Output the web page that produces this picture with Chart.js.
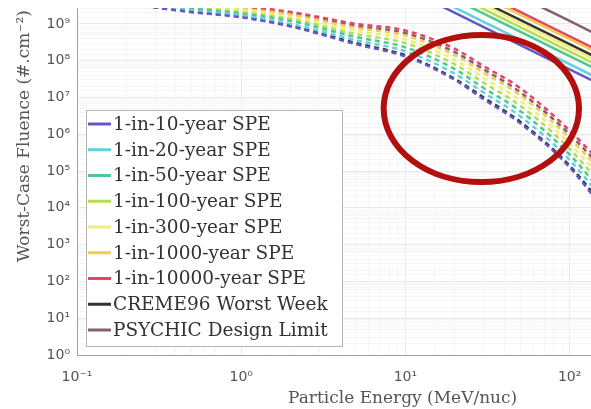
<!DOCTYPE html>
<html>
<head>
<meta charset="utf-8">
<script src="https://cdn.jsdelivr.net/npm/chart.js@4.4.1/dist/chart.umd.min.js"></script>
<style>
    html, body { margin: 0; padding: 0; background: #fff; }
    #wrap { width: 591px; height: 409px; position: relative; }
</style>
</head>
<body>
<div id="wrap"><canvas id="fluenceChart" width="591" height="409"></canvas></div>
<script>
// Worst-case fluence vs particle energy (log-log)

const seriesNames = ['1-in-10-year SPE', '1-in-20-year SPE', '1-in-50-year SPE', '1-in-100-year SPE',
    '1-in-300-year SPE', '1-in-1000-year SPE', '1-in-10000-year SPE', 'CREME96 Worst Week', 'PSYCHIC Design Limit'];
const seriesColors = ['#6258c8', '#5fd2e2', '#4cc890', '#b8dc50', '#eeee7a', '#f0cc50', '#ec4262', '#333333', '#84606e'];

// dashed curves
const dashEnergy = [0.2, 0.5, 1, 2, 5, 10, 20, 30, 50, 100, 200];
const dash10 = [3.5e9, 2.1e9, 1.5e9, 8.5e8, 2.8e8, 1.3e8, 3.0e7, 8.9e6, 2.0e6, 1.26e5, 2.5e3];
const dash20 = [3.9e9, 2.3e9, 1.7e9, 1.0e9, 3.6e8, 1.8e8, 4.4e7, 1.35e7, 3.1e6, 2.0e5, 4.6e3];
const dash50 = [4.2e9, 2.6e9, 1.9e9, 1.2e9, 4.4e8, 2.3e8, 5.9e7, 1.8e7, 4.3e6, 2.8e5, 7.2e3];
const dash100 = [4.5e9, 2.8e9, 2.1e9, 1.35e9, 5.3e8, 3.0e8, 7.9e7, 2.5e7, 6.0e6, 4.0e5, 1.1e4];
const dash300 = [4.8e9, 3.0e9, 2.4e9, 1.55e9, 6.5e8, 3.8e8, 1.05e8, 3.4e7, 8.3e6, 5.6e5, 1.8e4];
const dash1000 = [5.1e9, 3.3e9, 2.6e9, 1.8e9, 7.8e8, 4.8e8, 1.4e8, 4.7e7, 1.15e7, 7.9e5, 2.75e4];
const dash10000 = [5.6e9, 3.7e9, 3.0e9, 2.1e9, 1.0e9, 6.6e8, 2.1e8, 7.1e7, 1.8e7, 1.26e6, 5.0e4];
const dashCreme = [3.6e9, 2.1e9, 1.6e9, 8.9e8, 3.0e8, 1.4e8, 3.2e7, 9.9e6, 2.2e6, 1.4e5, 3.0e3];
const dashPsychic = [5.4e9, 3.5e9, 2.8e9, 1.95e9, 8.8e8, 5.6e8, 1.7e8, 5.8e7, 1.4e7, 1.0e6, 3.7e4];

// solid curves
const solidEnergy = [10, 30, 100, 300];
const solid10 = [9.2e9, 8.2e8, 5.8e7, 5.2e6];
const solid20 = [1.27e10, 1.14e9, 8.0e7, 7.2e6];
const solid50 = [2.1e10, 1.9e9, 1.33e8, 1.19e7];
const solid100 = [2.85e10, 2.5e9, 1.8e8, 1.6e7];
const solid300 = [3.7e10, 3.3e9, 2.3e8, 2.07e7];
const solid1000 = [6.1e10, 5.4e9, 3.85e8, 3.4e7];
const solid10000 = [7.3e10, 6.5e9, 4.6e8, 4.1e7];
const solidCreme = [4.4e10, 3.9e9, 2.8e8, 2.5e7];
const solidPsychic = [1.9e11, 1.7e10, 1.2e9, 1.06e8];

const xTickLabels = ['10⁻¹', '10⁰', '10¹', '10²'];
const yTickLabels = ['10⁰', '10¹', '10²', '10³', '10⁴', '10⁵', '10⁶', '10⁷', '10⁸', '10⁹'];

// red ellipse annotation, in data units
const ringCenter = [29, 5e6];
const ringXRange = [7.3, 113];
const ringYRange = [5e4, 5e8];

const dashSeries = [dash10, dash20, dash50, dash100, dash300, dash1000, dash10000, dashCreme, dashPsychic];
const solidSeries = [solid10, solid20, solid50, solid100, solid300, solid1000, solid10000, solidCreme, solidPsychic];

const isDecade = v => Math.abs(Math.log10(v) - Math.round(Math.log10(v))) < 1e-6;

const datasets = [];
seriesNames.forEach((name, i) => {
    datasets.push({
        label: name,
        data: solidEnergy.map((e, j) => ({ x: e, y: solidSeries[i][j] })),
        borderColor: seriesColors[i],
        borderWidth: 2.5,
        pointRadius: 0,
        fill: false
    });
    datasets.push({
        label: name + ' (dashed)',
        data: dashEnergy.map((e, j) => ({ x: e, y: dashSeries[i][j] })),
        borderColor: seriesColors[i],
        borderWidth: 2.5,
        borderDash: [5, 4],
        cubicInterpolationMode: 'monotone',
        pointRadius: 0,
        fill: false
    });
});

const overlay = {
    id: 'overlay',
    afterDraw(chart) {
        const { ctx, scales: { x, y } } = chart;
        ctx.save();

        // ellipse
        const cx = x.getPixelForValue(ringCenter[0]);
        const cy = y.getPixelForValue(ringCenter[1]);
        const rx = (x.getPixelForValue(ringXRange[1]) - x.getPixelForValue(ringXRange[0])) / 2;
        const ry = (y.getPixelForValue(ringYRange[0]) - y.getPixelForValue(ringYRange[1])) / 2;
        ctx.beginPath();
        ctx.ellipse(cx, cy, rx, ry, 0, 0, Math.PI * 2);
        ctx.strokeStyle = '#b40f0f';
        ctx.lineWidth = 6;
        ctx.stroke();

        // legend
        ctx.fillStyle = '#fff';
        ctx.fillRect(86.5, 110.5, 256, 236);
        ctx.strokeStyle = '#b4b4b4';
        ctx.lineWidth = 1;
        ctx.strokeRect(86.5, 110.5, 256, 236);
        ctx.font = '18.5px "DejaVu Serif"';
        ctx.textBaseline = 'middle';
        ctx.textAlign = 'left';
        seriesNames.forEach((name, i) => {
            const ly = 124 + i * 25.75;
            ctx.beginPath();
            ctx.moveTo(88, ly);
            ctx.lineTo(111, ly);
            ctx.strokeStyle = seriesColors[i];
            ctx.lineWidth = 3;
            ctx.stroke();
            ctx.fillStyle = '#333';
            ctx.fillText(name, 113, ly + 1);
        });

        // axis titles
        ctx.fillStyle = '#555';
        ctx.font = '17px "DejaVu Serif"';
        ctx.textBaseline = 'alphabetic';
        ctx.fillText('Particle Energy (MeV/nuc)', 288, 403);
        ctx.translate(29, 262);
        ctx.rotate(-Math.PI / 2);
        ctx.fillText('Worst-Case Fluence (#.cm⁻²)', 0, 0);
        ctx.restore();
    }
};

new Chart(document.getElementById('fluenceChart'), {
    type: 'line',
    data: { datasets: datasets },
    plugins: [overlay],
    options: {
        responsive: false,
        animation: false,
        devicePixelRatio: 1,
        events: [],
        layout: { padding: { top: 8, right: 0, left: 0, bottom: 0 } },
        plugins: { legend: { display: false }, tooltip: { enabled: false } },
        scales: {
            x: {
                type: 'logarithmic',
                min: 0.1,
                max: 135,
                afterFit: s => { s.height = 54; s.paddingLeft = 0; s.paddingRight = 0; },
                border: { display: true, color: '#a0a0a0', width: 1 },
                grid: {
                    drawTicks: false,
                    color: c => c.tick && isDecade(c.tick.value) ? '#e8e8e8' : '#f5f5f5'
                },
                ticks: {
                    autoSkip: false,
                    maxRotation: 0,
                    padding: 14,
                    color: '#555',
                    font: { family: 'DejaVu Sans', size: 14 },
                    callback: v => isDecade(v) ? (xTickLabels[Math.round(Math.log10(v)) + 1] || '') : ''
                }
            },
            y: {
                type: 'logarithmic',
                min: 1,
                max: 2.7e9,
                afterFit: s => { s.width = 77; s.paddingTop = 0; s.paddingBottom = 0; },
                border: { display: true, color: '#a0a0a0', width: 1 },
                grid: {
                    drawTicks: false,
                    color: c => c.tick && isDecade(c.tick.value) ? '#e8e8e8' : '#f5f5f5'
                },
                ticks: {
                    autoSkip: false,
                    padding: 7,
                    color: '#555',
                    font: { family: 'DejaVu Sans', size: 14 },
                    callback: v => isDecade(v) ? (yTickLabels[Math.round(Math.log10(v))] || '') : ''
                }
            }
        }
    }
});
</script>
</body>
</html>
